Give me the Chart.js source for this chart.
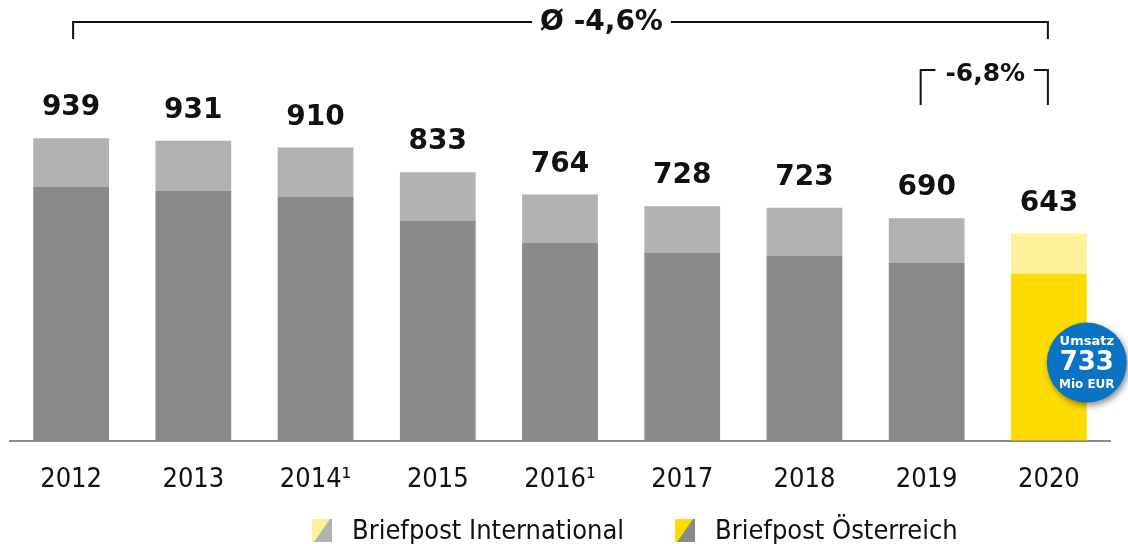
<!DOCTYPE html>
<html>
<head>
<meta charset="utf-8">
<script src="https://cdn.jsdelivr.net/npm/chart.js@4"></script>
<style>
  html, body { margin: 0; padding: 0; background: #fff; }
  #wrap { width: 1128px; height: 544px; position: relative; }
</style>
</head>
<body>
<div id="wrap"><canvas id="chart"></canvas></div>
<script>
// Values (Mio EUR)
const years = ['2012', '2013', '2014¹', '2015', '2016¹', '2017', '2018', '2019', '2020'];
const totals = [939, 931, 910, 833, 764, 728, 723, 690, 643];
const austria = [788, 776, 758, 683, 614, 584, 574, 553, 518];
const international = [151, 155, 152, 150, 150, 144, 149, 137, 125];
const cagrLabel = 'Ø -4,6%';
const lastChangeLabel = '-6,8%';
const revenueLabel = ['Umsatz', '733', 'Mio EUR'];

const darkGray = '#898989';
const lightGray = '#b2b2b2';
const yellow = '#ffdc00';
const lightYellow = '#fff09a';
const last = years.length - 1;

const condensed = '"DejaVu Sans Condensed", "Liberation Sans Narrow", "DejaVu Sans", sans-serif';
const boldFont = '"DejaVu Sans", sans-serif';

// labels, brackets, badge and legend drawn on top of the bars
const extras = {
  id: 'extras',
  afterDatasetsDraw(chart) {
    const ctx = chart.ctx;
    const x = chart.scales.x;
    const topMeta = chart.getDatasetMeta(1);

    ctx.save();
    ctx.fillStyle = '#111';
    ctx.textAlign = 'center';
    ctx.textBaseline = 'alphabetic';
    ctx.font = 'bold 28px ' + boldFont;
    topMeta.data.forEach((bar, i) => {
      ctx.fillText(String(totals[i]), bar.x, bar.y - 23);
    });

    // bracket over the whole period
    const x0 = x.getPixelForValue(0) + 2;
    const x1 = x.getPixelForValue(last) - 1;
    ctx.strokeStyle = '#111';
    ctx.lineWidth = 2;
    ctx.font = 'bold 28px ' + boldFont;
    const cx = (x0 + x1) / 2 + 41;
    const tw = ctx.measureText(cagrLabel).width;
    ctx.beginPath();
    ctx.moveTo(x0, 39); ctx.lineTo(x0, 22); ctx.lineTo(cx - tw / 2 - 8, 22);
    ctx.moveTo(cx + tw / 2 + 8, 22); ctx.lineTo(x1, 22); ctx.lineTo(x1, 39);
    ctx.stroke();
    ctx.textBaseline = 'middle';
    ctx.fillText(cagrLabel, cx, 23);

    // bracket over the last year
    const b0 = x.getPixelForValue(last - 1) - 6;
    ctx.font = 'bold 25px ' + boldFont;
    const tw2 = ctx.measureText(lastChangeLabel).width;
    const cx2 = (b0 + x1) / 2 + 1;
    ctx.beginPath();
    ctx.moveTo(b0, 105); ctx.lineTo(b0, 70); ctx.lineTo(cx2 - tw2 / 2 - 10, 70);
    ctx.moveTo(cx2 + tw2 / 2 + 9, 70); ctx.lineTo(x1, 70); ctx.lineTo(x1, 105);
    ctx.stroke();
    ctx.fillText(lastChangeLabel, cx2, 74);

    // revenue badge
    const lastBar = topMeta.data[last];
    const bx = lastBar.x + lastBar.width / 2;
    const by = chart.chartArea.bottom - 78;
    ctx.save();
    ctx.shadowColor = 'rgba(0,0,0,0.45)';
    ctx.shadowBlur = 6;
    ctx.shadowOffsetX = 2;
    ctx.shadowOffsetY = 3;
    ctx.fillStyle = '#0b73c3';
    ctx.beginPath();
    ctx.arc(bx, by, 40, 0, Math.PI * 2);
    ctx.fill();
    ctx.restore();
    ctx.fillStyle = '#fff';
    ctx.textBaseline = 'middle';
    ctx.font = 'bold 13px ' + boldFont;
    ctx.fillText(revenueLabel[0], bx, by - 21);
    ctx.font = 'bold 26px ' + boldFont;
    ctx.fillText(revenueLabel[1], bx, by + 1);
    ctx.font = 'bold 12px ' + boldFont;
    ctx.fillText(revenueLabel[2], bx, by + 22);
    ctx.restore();
  },
  afterDraw(chart) {
    const ctx = chart.ctx;
    const items = [
      { text: chart.data.datasets[1].label, tri: lightYellow, gray: lightGray },
      { text: chart.data.datasets[0].label, tri: yellow, gray: darkGray }
    ];
    ctx.save();
    ctx.font = '27px ' + condensed;
    ctx.textBaseline = 'middle';
    ctx.textAlign = 'left';
    let px = 312;
    const top = 519, w = 20, h = 23;
    items.forEach(item => {
      ctx.fillStyle = item.gray;
      ctx.fillRect(px, top, w, h);
      ctx.fillStyle = item.tri;
      ctx.beginPath();
      ctx.moveTo(px, top);
      ctx.lineTo(px + w - 2, top);
      ctx.lineTo(px + 2, top + h);
      ctx.lineTo(px, top + h);
      ctx.closePath();
      ctx.fill();
      ctx.fillStyle = '#111';
      ctx.fillText(item.text, px + 40, top + h / 2 + 1);
      px += 40 + ctx.measureText(item.text).width + 51;
    });
    ctx.restore();
  }
};

new Chart(document.getElementById('chart'), {
  type: 'bar',
  data: {
    labels: years,
    datasets: [
      {
        label: 'Briefpost Österreich',
        data: austria,
        backgroundColor: years.map((y, i) => i === last ? yellow : darkGray)
      },
      {
        label: 'Briefpost International',
        data: international,
        backgroundColor: years.map((y, i) => i === last ? lightYellow : lightGray)
      }
    ]
  },
  options: {
    animation: false,
    responsive: true,
    maintainAspectRatio: false,
    layout: { padding: { left: 10, right: 18, top: 0, bottom: 25 } },
    datasets: { bar: { barPercentage: 0.62, categoryPercentage: 1 } },
    plugins: { legend: { display: false }, tooltip: { enabled: false } },
    scales: {
      x: {
        stacked: true,
        grid: { display: false, drawTicks: false },
        border: { color: '#8c8c8c', width: 2 },
        ticks: { color: '#111', padding: 23, font: { size: 27, family: condensed } }
      },
      y: { stacked: true, display: false, min: 0, max: 1368 }
    }
  },
  plugins: [extras]
});
</script>
</body>
</html>
